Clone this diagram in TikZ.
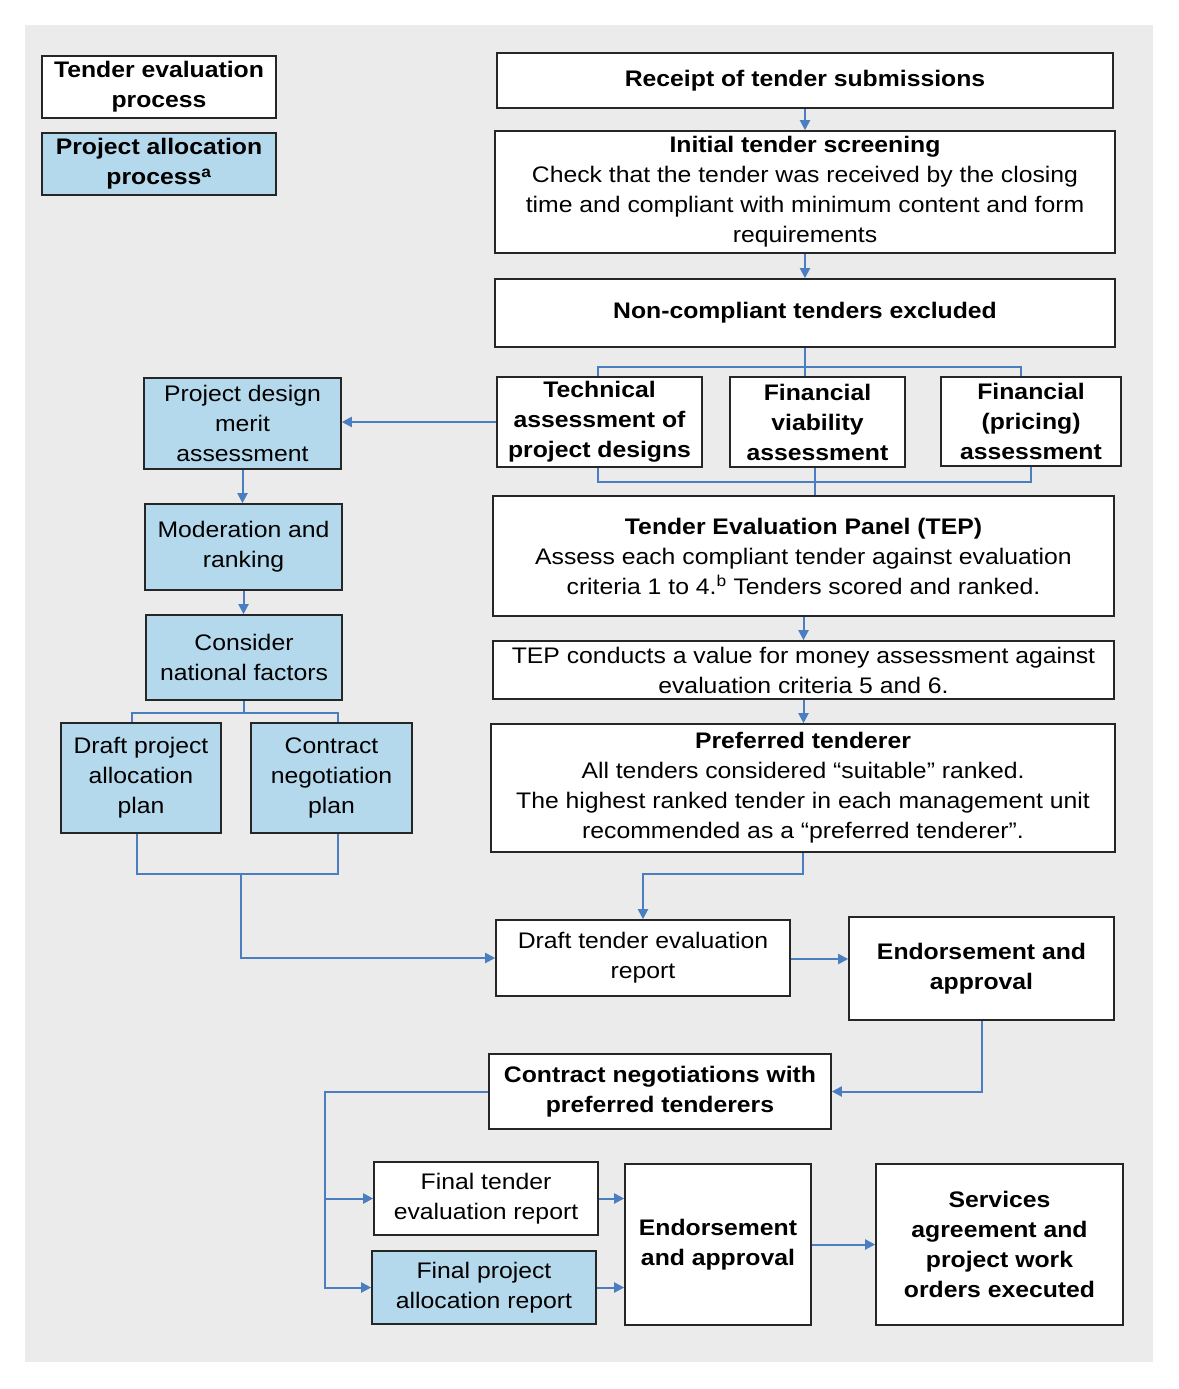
\documentclass[tikz,border=0pt]{standalone}
\usepackage{fontspec}
\setmainfont{Liberation Sans}[FakeStretch=1.1]
\usetikzlibrary{arrows.meta}
\definecolor{bgc}{HTML}{EBEBEB}
\definecolor{boxblue}{HTML}{B5D9EC}
\definecolor{linkblue}{HTML}{4A7EC0}
\begin{document}
\begin{tikzpicture}[x=1pt,y=-1pt,
  tbox/.style={draw=black!85, line width=1.6pt, fill=white, inner sep=0pt, align=center,
    font=\fontsize{22.5}{30}\selectfont},
  bbox/.style={tbox, fill=boxblue},
  bf/.style={font=\fontsize{22.5}{30}\selectfont\bfseries},
  conn/.style={draw=linkblue, line width=2pt},
  tip/.style={conn, -{Triangle[length=10pt,width=10pt]}}]
\useasboundingbox (0,0) rectangle (1178,1389);
\fill[bgc] (25,25) rectangle (1153,1362);
% legend
\node[tbox,bf,minimum width=234pt,minimum height=62pt] (leg1) at (159,87) {Tender evaluation\\process};
\node[bbox,bf,minimum width=234pt,minimum height=62pt] (leg2) at (159,164) {Project allocation\\process\textsuperscript{a}};
% tender evaluation column
\node[tbox,bf,minimum width=616pt,minimum height=55pt] (receipt) at (805,80.5) {Receipt of tender submissions};
\node[tbox,minimum width=620pt,minimum height=122pt] (screen) at (805,192) {\textbf{Initial tender screening}\\Check that the tender was received by the closing\\time and compliant with minimum content and form\\requirements};
\node[tbox,bf,minimum width=620pt,minimum height=68pt] (noncomp) at (805,313) {Non-compliant tenders excluded};
\node[tbox,bf,minimum width=205pt,minimum height=90pt] (tech) at (599.5,422) {Technical\\assessment of\\project designs};
\node[tbox,bf,minimum width=175pt,minimum height=90pt] (viab) at (817.5,422) {Financial\\viability\\assessment};
\node[tbox,bf,minimum width=180pt,minimum height=89pt] (price) at (1031,421.5) {Financial\\(pricing)\\assessment};
\node[tbox,minimum width=621pt,minimum height=120pt] (tep) at (803.5,556) {\textbf{Tender Evaluation Panel (TEP)}\\Assess each compliant tender against evaluation\\criteria 1 to 4.\textsuperscript{b} Tenders scored and ranked.};
\node[tbox,minimum width=621pt,minimum height=58pt] (vfm) at (803.5,670) {TEP conducts a value for money assessment against\\evaluation criteria 5 and 6.};
\node[tbox,minimum width=624pt,minimum height=128pt] (pref) at (803,788) {\textbf{Preferred tenderer}\\All tenders considered “suitable” ranked.\\The highest ranked tender in each management unit\\recommended as a “preferred tenderer”.};
\node[tbox,minimum width=294pt,minimum height=76pt] (dter) at (643,958) {Draft tender evaluation\\report};
\node[tbox,bf,minimum width=265pt,minimum height=103pt] (end1) at (981.5,968.5) {Endorsement and\\approval};
\node[tbox,bf,minimum width=342pt,minimum height=75pt] (cneg) at (660,1091.5) {Contract negotiations with\\preferred tenderers};
\node[tbox,minimum width=224pt,minimum height=73pt] (fter) at (486,1198.5) {Final tender\\evaluation report};
\node[bbox,minimum width=224pt,minimum height=73pt] (fpar) at (484,1287.5) {Final project\\allocation report};
\node[tbox,bf,minimum width=186pt,minimum height=161pt] (end2) at (718,1244.5) {Endorsement\\and approval};
\node[tbox,bf,minimum width=247pt,minimum height=161pt] (serv) at (999.5,1244.5) {Services\\agreement and\\project work\\orders executed};
% project allocation column
\node[bbox,minimum width=197pt,minimum height=91pt] (pdma) at (242.5,423.5) {Project design\\merit\\assessment};
\node[bbox,minimum width=197pt,minimum height=86pt] (modr) at (243.5,547) {Moderation and\\ranking};
\node[bbox,minimum width=196pt,minimum height=85pt] (cnf) at (244,657.5) {Consider\\national factors};
\node[bbox,minimum width=160pt,minimum height=110pt] (dpap) at (141,778) {Draft project\\allocation\\plan};
\node[bbox,minimum width=161pt,minimum height=110pt] (cnp) at (331.5,778) {Contract\\negotiation\\plan};
% connectors
\draw[tip] (receipt.south) -- (screen.north);
\draw[tip] (screen.south) -- (noncomp.north);
\draw[conn] (noncomp.south) -- (noncomp.south |- viab.north);
\coordinate (busT) at ([yshift=-19pt]noncomp.south);
\draw[conn] ([xshift=-1.5pt]tech.north) |- (busT) -| ([xshift=-10pt]price.north);
\draw[conn] ([xshift=-1.5pt]tech.south) -- ++(0,14) -| (price.south);
\draw[conn] ([xshift=-2.5pt]viab.south) -- ([xshift=-2.5pt]viab.south |- tep.north);
\draw[tip] (tech.west) -- (tech.west -| pdma.east);
\draw[tip] (pdma.south) -- (pdma.south |- modr.north);
\draw[tip] (modr.south) -- (modr.south |- cnf.north);
\coordinate (busP) at ([yshift=-12pt]cnf.south);
\draw[conn] (cnf.south) -- (busP);
\draw[conn] ([xshift=-9pt]dpap.north) |- (busP) -| ([xshift=6.5pt]cnp.north);
\draw[conn] ([xshift=-4pt]dpap.south) -- ++(0,40) -| ([xshift=6.5pt]cnp.south);
\coordinate (j1) at (241,873);
\draw[tip] (j1) |- (dter.west);
\draw[tip] (tep.south) -- (vfm.north);
\draw[tip] (vfm.south) -- (vfm.south |- pref.north);
\draw[tip] (pref.south) -- ++(0,21) -| (dter.north);
\draw[tip] ([yshift=-1pt]dter.east) -- ([yshift=-1pt]dter.east -| end1.west);
\draw[tip] (end1.south) |- (cneg.east);
\coordinate (lft) at (325,1091.5);
\draw[tip] (cneg.west) -| (lft |- fpar.west) -- (fpar.west);
\draw[tip] (lft |- fter.west) -- (fter.west);
\draw[tip] (fter.east) -- (fter.east -| end2.west);
\draw[tip] (fpar.east) -- (fpar.east -| end2.west);
\draw[tip] (end2.east) -- (serv.west);
\end{tikzpicture}
\end{document}
